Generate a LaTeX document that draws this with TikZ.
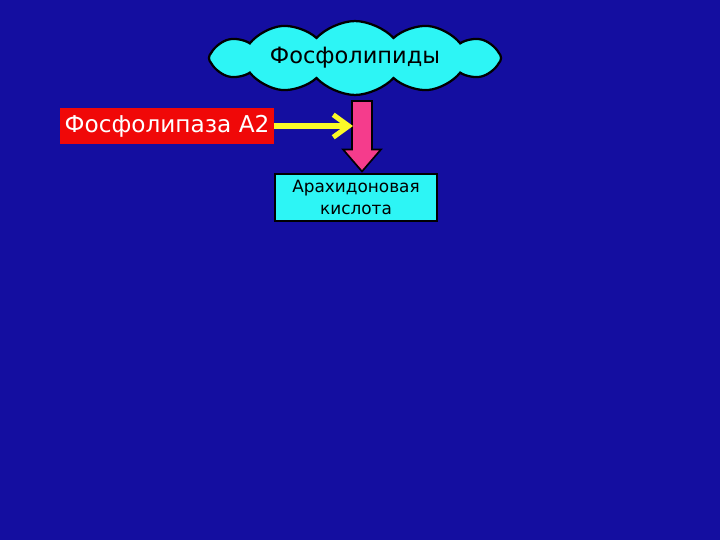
\documentclass[tikz,border=0pt]{standalone}
\usepackage{fontspec}
\setmainfont{DejaVu Sans}
\usetikzlibrary{shapes.symbols,arrows.meta,calc}

\definecolor{slideblue}{RGB}{20,14,160}
\definecolor{lipidcyan}{RGB}{45,245,245}
\definecolor{enzred}{RGB}{240,8,8}
\definecolor{arrowpink}{RGB}{245,60,140}
\definecolor{arrowyellow}{RGB}{250,250,40}

\tikzset{
  lipidcloud/.style={cloud, cloud puffs=12, cloud puff arc=95, aspect=5,
    draw=black, line width=1.6pt, fill=lipidcyan,
    minimum width=7.3cm, minimum height=1.6cm, inner sep=0pt,
    font=\fontsize{16}{18}\selectfont},
  enzbox/.style={rectangle, fill=enzred, text=white, inner sep=0pt,
    minimum width=5.35cm, minimum height=0.9cm,
    font=\fontsize{16.5}{18}\selectfont},
  acidbox/.style={rectangle, draw=black, line width=0.8pt, fill=lipidcyan,
    inner sep=0pt, minimum width=4.05cm, minimum height=1.175cm,
    align=center, font=\fontsize{12}{15}\selectfont}
}

\begin{document}
\begin{tikzpicture}[x=0.025cm,y=-0.025cm]
  % slide background
  \fill[slideblue] (0,0) rectangle (720,540);
  \useasboundingbox (0,0) rectangle (720,540);

  \node[lipidcloud] (lipids) at (355,58) {Фосфолипиды};
  \node[enzbox] (pla) at (167,126) {Фосфолипаза А2};
  \node[acidbox] (acid) at (356,197.5) {Арахидоновая\\кислота};

  % fat pink arrow
  \coordinate (top) at ($(lipids.center)+(7,43)$);
  \coordinate (tip) at ($(acid.north)+(6,-2)$);
  \draw[line width=1.2pt, fill=arrowpink]
    ($(top)+(-10,0)$) -- ($(tip)+(-10,-22)$) -- ($(tip)+(-19,-22)$) -- (tip)
    -- ($(tip)+(19,-22)$) -- ($(tip)+(10,-22)$) -- ($(top)+(10,0)$) -- cycle;

  % yellow arrow into the shaft
  \coordinate (hit) at ($(top)+(-9,25)$);
  \draw[arrowyellow, line width=3.6pt, -{Straight Barb[length=11pt,width=16pt]}]
    (pla.east) -- (pla.east -| hit);
\end{tikzpicture}
\end{document}
